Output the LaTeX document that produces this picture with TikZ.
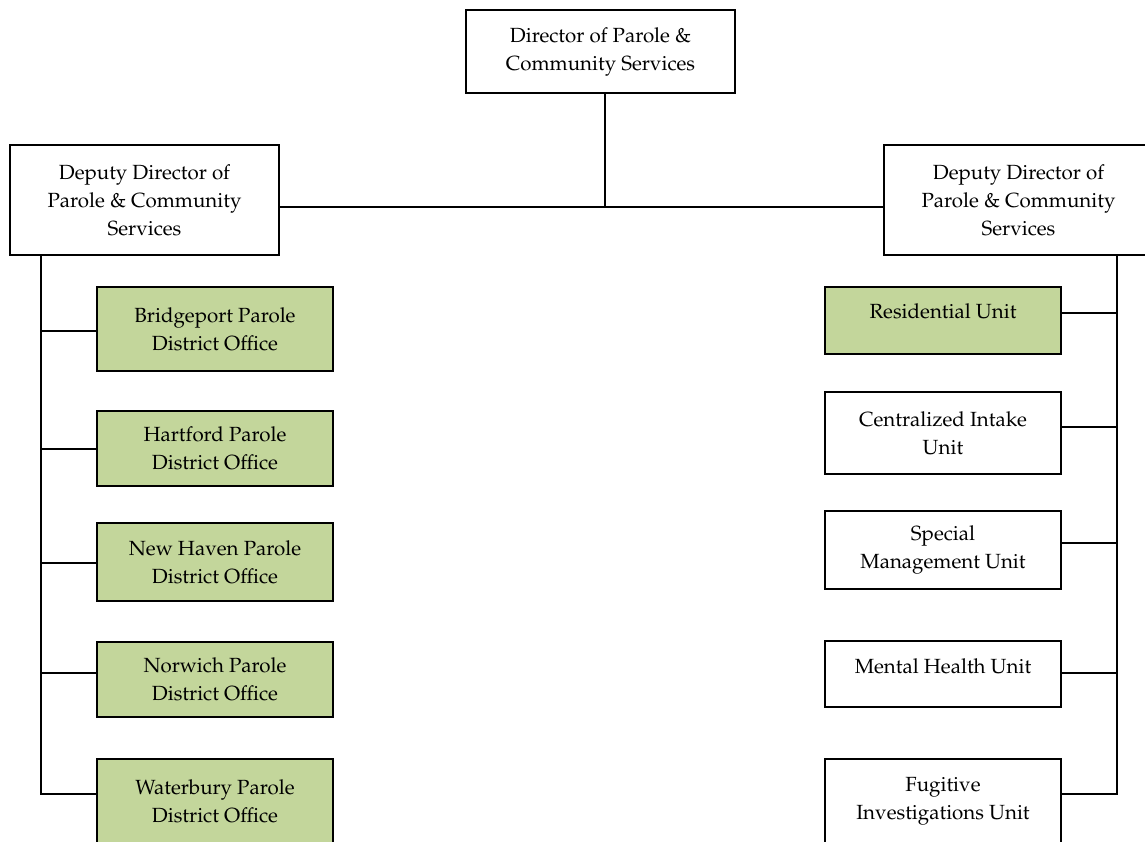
\documentclass[tikz,border=0pt]{standalone}
\usepackage[T1]{fontenc}
\usepackage{mathpazo}
\usetikzlibrary{positioning}

\definecolor{unitgreen}{RGB}{195,214,155}

\tikzset{
  orgbox/.style={draw=black, line width=2pt, fill=white, align=center, inner sep=0pt,
    font=\fontsize{20.5}{28}\selectfont},
  unitbox/.style={orgbox, fill=unitgreen, minimum width=236pt},
  plainunit/.style={orgbox, minimum width=236pt},
  greenone/.style={unitbox, text height=14pt, text depth=19pt},
  plainone/.style={plainunit, text height=14pt, text depth=16pt},
  link/.style={line width=1.8pt, line cap=rect},
}

\begin{document}
\begin{tikzpicture}[x=1pt, y=-1pt]
    \useasboundingbox (0,0) rectangle (1145,842);

    % Director and deputies
    \node[orgbox, minimum width=269pt, minimum height=83pt] (dir) at (600.5,51.5)
        {Director of Parole \&\\Community Services};
    \node[orgbox, minimum width=269pt, minimum height=110pt] (depL) at (144.5,200)
        {Deputy Director of\\Parole \& Community\\Services};
    \node[orgbox, minimum width=269pt, minimum height=110pt] (depR) at (1018.5,200)
        {Deputy Director of\\Parole \& Community\\Services};

    \coordinate (hub) at (605,207);
    \draw[link] (dir.south -| hub) -- (hub);
    \draw[link] ([yshift=-7pt]depL.east) -- ([yshift=-7pt]depR.west);

    % District offices (left)
    \foreach \name/\cy/\h/\ly/\txt in {bp/329/84/331/{Bridgeport Parole\\District Office},
        hf/448.5/75/449/{Hartford Parole\\District Office},
        nh/562/78/563/{New Haven Parole\\District Office},
        nw/679.5/75/673/{Norwich Parole\\District Office},
        wb/801/84/794/{Waterbury Parole\\District Office}} {
        \node[unitbox, minimum height=\h pt] (\name) at (215,\cy) {\txt};
        \coordinate (\name-in) at (215,\ly);
        \draw[link] (\name-in -| \name.west) -- (41,\ly);
    }
    \coordinate (trunkL) at (41,794);
    \draw[link] (depL.south -| trunkL) -- (trunkL);

    % Units (right)
    \foreach \name/\cy/\h/\ly/\sty/\txt in {res/320.5/67/313/greenone/{Residential Unit},
        cin/433/82/427/plainunit/{Centralized Intake\\Unit},
        smu/550/78/543/plainunit/{Special\\Management Unit},
        mhu/674/66/673/plainone/{Mental Health Unit},
        fiu/801/84/794/plainunit/{Fugitive\\Investigations Unit}} {
        \node[\sty, minimum height=\h pt] (\name) at (943,\cy) {\txt};
        \coordinate (\name-in) at (943,\ly);
        \draw[link] (\name-in -| \name.east) -- (1117,\ly);
    }
    \coordinate (trunkR) at (1117,794);
    \draw[link] (depR.south -| trunkR) -- (trunkR);
\end{tikzpicture}
\end{document}
